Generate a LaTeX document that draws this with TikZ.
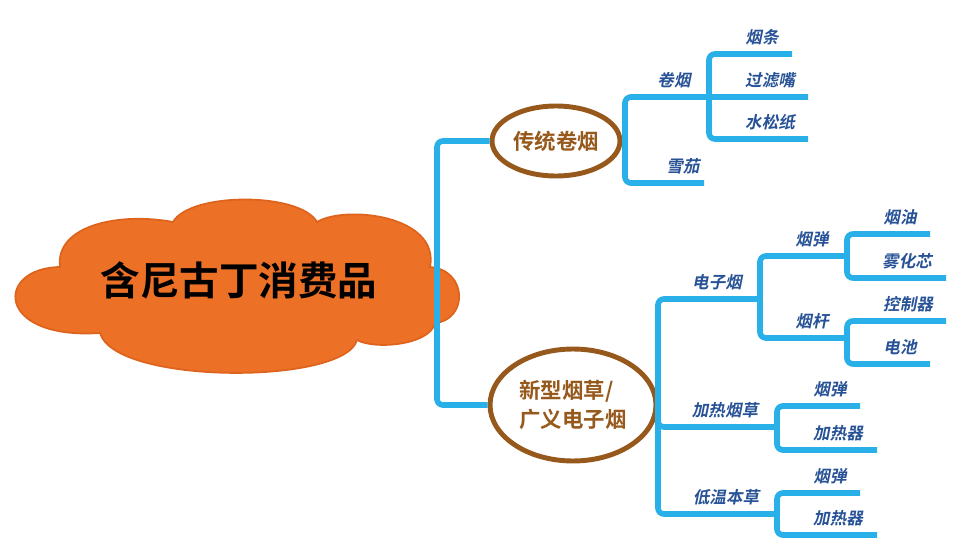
\documentclass[tikz,border=0pt]{standalone}
\usepackage{fontspec}
\setmainfont{Noto Sans CJK SC}[BoldFont={Noto Sans CJK SC Bold}, ItalicFont={Noto Sans CJK SC}, ItalicFeatures={FakeSlant=0.2}, BoldItalicFont={Noto Sans CJK SC Bold}, BoldItalicFeatures={FakeSlant=0.2}]
\usetikzlibrary{arrows}
\usetikzlibrary{shapes}

\definecolor{branchblue}{RGB}{41,176,232}
\definecolor{labelblue}{RGB}{40,82,150}
\definecolor{bark}{RGB}{150,88,27}
\definecolor{cloudorange}{RGB}{236,113,38}
\definecolor{cloudedge}{RGB}{222,100,30}

\begin{document}
\begin{tikzpicture}[x=0.02cm, y=-0.02cm]
\tikzset{
   >=stealth',
   branch/.style = {draw = branchblue, line width = 3.2pt, rounded corners = 0.12cm},
   puffs/.style = {draw = cloudedge, line width = 1pt, fill = cloudorange},
   root/.style = {inner sep = 0pt, font = \bfseries\fontsize{22.5}{26}\selectfont},
   topic/.style = {ellipse, draw = bark, line width = 2.8pt, fill = white, text = bark, align = left, inner sep = 0pt, font = \bfseries\fontsize{12.2}{16.5}\selectfont},
   leaf/.style = {text = labelblue, inner sep = 0pt, font = \bfseries\itshape\fontsize{9.4}{11}\selectfont}
}
\useasboundingbox (0,0) rectangle (977,554);

  % cloud outline
  \path [puffs] (60,267) .. controls (55,225) and (120,212) .. (173,222)
        .. controls (190,192) and (300,192) .. (317,222)
        .. controls (345,205) and (440,215) .. (430,267)
        .. controls (468,270) and (468,320) .. (435,323)
        .. controls (430,345) and (375,350) .. (357,340)
        .. controls (345,385) and (115,385) .. (100,333)
        .. controls (-5,340) and (-5,268) .. (60,267) -- cycle;
  \node [root] (xfp) at (239,280) {含尼古丁消费品};

  % hubs and line ends
  \coordinate (hub0) at (437,284);
  \coordinate (hub1) at (625,141);
  \coordinate (hubjy) at (709,97);
  \coordinate (hub2) at (658,405);
  \coordinate (hubdz) at (760,299);
  \coordinate (hubyd) at (847,256);
  \coordinate (hubyg) at (847,338);
  \coordinate (hubjr) at (777,427);
  \coordinate (hubdw) at (777,514);

  \node [topic, minimum width = 2.56cm, minimum height = 1.4cm] (ctjy) at (556,141) {传统卷烟};
  \node [topic, minimum width = 3.32cm, minimum height = 2.24cm] (xxyc) at (573,405) {新型烟草/\\广义电子烟};

  \draw [branch] (hub0) |- (ctjy.west);
  \draw [branch] (hub0) |- (xxyc.west);

  % traditional
  \draw [branch] (ctjy.east) -- (hub1);
  \draw [branch] (hub1) |- (808,97) coordinate (e-juanyan);
  \draw [branch] (hub1) |- (704,183) coordinate (e-xuejia);
  \draw [branch] (hubjy) |- (792,54) coordinate (e-yantiao);
  \draw [branch] (hubjy) |- (808,139) coordinate (e-shuisong);

  \node [leaf] (juanyan) at (674,80) {卷烟};
  \node [leaf] (xuejia) at (683,166) {雪茄};
  \node [leaf] (yantiao) at (762,37) {烟条};
  \node [leaf] (guolv) at (770,80) {过滤嘴};
  \node [leaf] (shuisong) at (770,122) {水松纸};

  % new type
  \draw [branch] (xxyc.east) -- (hub2);
  \draw [branch] (hub2) |- (hubdz);
  \draw [branch] (hub2) |- (hubjr);
  \draw [branch] (hub2) |- (hubdw);
  \draw [branch] (hubdz) |- (hubyd);
  \draw [branch] (hubdz) |- (hubyg);
  \draw [branch] (hubyd) |- (930,234) coordinate (e-yanyou);
  \draw [branch] (hubyd) |- (946,278) coordinate (e-wuhua);
  \draw [branch] (hubyg) |- (946,321) coordinate (e-kongzhi);
  \draw [branch] (hubyg) |- (930,364) coordinate (e-dianchi);
  \draw [branch] (hubjr) |- (860,406) coordinate (e-jrdan);
  \draw [branch] (hubjr) |- (877,450) coordinate (e-jrqi);
  \draw [branch] (hubdw) |- (860,493) coordinate (e-dwdan);
  \draw [branch] (hubdw) |- (877,535) coordinate (e-dwqi);

  \node [leaf] (dianzi) at (717,282) {电子烟};
  \node [leaf] (jiare) at (725,410) {加热烟草};
  \node [leaf] (diwen) at (726,497) {低温本草};
  \node [leaf] (yandan) at (812,239) {烟弹};
  \node [leaf] (yangan) at (812,321) {烟杆};
  \node [leaf] (yanyou) at (900,217) {烟油};
  \node [leaf] (wuhua) at (907,261) {雾化芯};
  \node [leaf] (kongzhi) at (908,304) {控制器};
  \node [leaf] (dianchi) at (900,347) {电池};
  \node [leaf] (jrdan) at (830,389) {烟弹};
  \node [leaf] (jrqi) at (838,433) {加热器};
  \node [leaf] (dwdan) at (830,476) {烟弹};
  \node [leaf] (dwqi) at (838,518) {加热器};

\end{tikzpicture}
\end{document}
